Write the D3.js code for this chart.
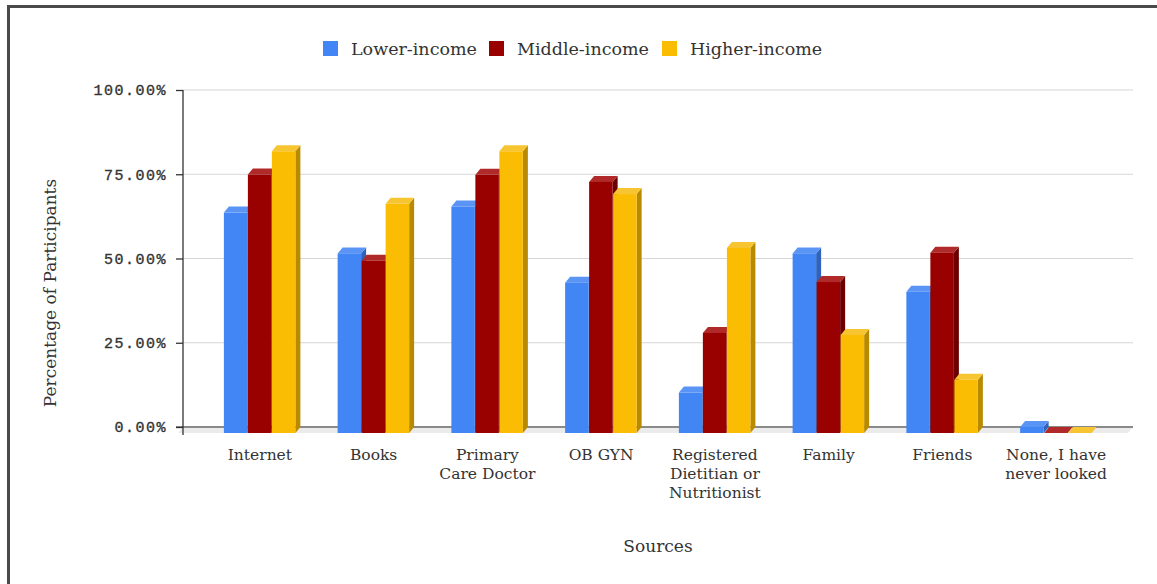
<!DOCTYPE html>
<html>
<head>
<meta charset="utf-8">
<script src="https://cdn.jsdelivr.net/npm/d3@7"></script>
<style>
  html, body { margin: 0; padding: 0; background: #fff; }
  svg { display: block; }
</style>
</head>
<body>
<svg id="chart" width="1157" height="584"></svg>
<script>
// Information sources by income group (percentage of participants)
const categories = ["Internet", "Books", "Primary Care Doctor", "OB GYN",
  "Registered Dietitian or Nutritionist", "Family", "Friends", "None, I have never looked"];
const categoryLines = [["Internet"], ["Books"], ["Primary", "Care Doctor"], ["OB GYN"],
  ["Registered", "Dietitian or", "Nutritionist"], ["Family"], ["Friends"], ["None, I have", "never looked"]];
const seriesNames = ["Lower-income", "Middle-income", "Higher-income"];
const lowerIncome  = [65.4, 53.3, 67.2, 44.6, 12.0, 53.3, 41.9, 1.8];
const middleIncome = [76.7, 51.1, 76.6, 74.5, 29.7, 44.8, 53.5, 0];
const higherIncome = [83.6, 68.0, 83.6, 70.9, 54.9, 29.1, 15.8, 0];
const yTicks = [0, 25, 50, 75, 100];

const frontColors = ["#4285f4", "#990000", "#fbbc04"];
const topColors   = ["#5a95f5", "#b02a2a", "#f7c531"];
const sideColors  = ["#2f63bd", "#6a0000", "#b88a00"];

const seriesValues = [lowerIncome, middleIncome, higherIncome];

const svg = d3.select("#chart");

// Outer frame
svg.append("rect")
  .attr("x", 8.5).attr("y", 6.5)
  .attr("width", 1200).attr("height", 700)
  .attr("fill", "#fff").attr("stroke", "#4a4a4a").attr("stroke-width", 3);

// Scales (back plane)
const y = d3.scaleLinear().domain([0, 100]).range([427, 90]);
const plotLeft = 183, plotRight = 1133;
const depthX = 5, depthY = 6;   // offset between front face and back plane

const x0 = d3.scaleBand().domain(categories).range([203, 1113]);
const groupWidth = 72;
const x1 = d3.scaleBand().domain(seriesNames).range([0, groupWidth]);

// Gridlines
svg.append("g").selectAll("line")
  .data(yTicks.filter(d => d > 0))
  .join("line")
  .attr("x1", plotLeft).attr("x2", plotRight)
  .attr("y1", d => y(d)).attr("y2", d => y(d))
  .attr("stroke", "#d6d6d6").attr("stroke-width", 1.2);

// Floor strip
svg.append("polygon")
  .attr("points", [
    [plotLeft, y(0)], [plotRight, y(0)],
    [plotRight - depthX, y(0) + depthY], [plotLeft - depthX, y(0) + depthY]
  ].map(p => p.join(",")).join(" "))
  .attr("fill", "#ebebeb");

// Baseline
svg.append("line")
  .attr("x1", 176).attr("x2", plotRight)
  .attr("y1", y(0)).attr("y2", y(0))
  .attr("stroke", "#8a8a8a").attr("stroke-width", 2);

// Y axis
const yAxis = d3.axisLeft(y)
  .tickValues(yTicks)
  .tickSize(7)
  .tickPadding(9)
  .tickFormat(d => d3.format(".2f")(d) + "%");
const gy = svg.append("g")
  .attr("transform", `translate(${plotLeft},0)`)
  .call(yAxis);
gy.select(".domain").remove();
gy.selectAll(".tick line").attr("stroke", "#333").attr("stroke-width", 1.3);
gy.selectAll(".tick text")
  .attr("fill", "#333")
  .attr("stroke", "#333").attr("stroke-width", 0.35)
  .style("font-family", "'Liberation Mono', monospace")
  .style("font-size", "15px")
  .style("letter-spacing", "1.5px");
svg.append("line")
  .attr("x1", plotLeft).attr("x2", plotLeft)
  .attr("y1", y(100)).attr("y2", y(0) + 8)
  .attr("stroke", "#333").attr("stroke-width", 1.3);

// 3D bars
const barW = x1.bandwidth() - 0.5;
const groups = svg.append("g").selectAll("g")
  .data(categories)
  .join("g")
  .attr("transform", c => `translate(${x0(c) + (x0.bandwidth() - groupWidth) / 2},0)`);

groups.each(function(c, ci) {
  const g = d3.select(this);
  seriesNames.forEach((s, si) => {
    const v = seriesValues[si][ci];
    const left = x1(s);
    const right = left + barW;
    const top = y(v) + depthY;
    const bottom = y(0) + depthY;
    // side face
    g.append("polygon")
      .attr("points", [[right, top], [right + depthX, top - depthY],
        [right + depthX, bottom - depthY], [right, bottom]].map(p => p.join(",")).join(" "))
      .attr("fill", sideColors[si]);
    // top face
    g.append("polygon")
      .attr("points", [[left, top], [left + depthX, top - depthY],
        [right + depthX, top - depthY], [right, top]].map(p => p.join(",")).join(" "))
      .attr("fill", topColors[si]);
    // front face
    if (bottom - top > 0) {
      g.append("rect")
        .attr("x", left).attr("y", top)
        .attr("width", barW).attr("height", bottom - top)
        .attr("fill", frontColors[si]);
    }
  });
});

// Category labels
const labelFont = "'DejaVu Serif', serif";
groups.append("text")
  .attr("x", groupWidth / 2)
  .attr("y", 460)
  .attr("text-anchor", "middle")
  .attr("fill", "#333")
  .style("font-family", labelFont)
  .style("font-size", "15.5px")
  .selectAll("tspan")
  .data((c, i) => categoryLines[i])
  .join("tspan")
  .attr("x", groupWidth / 2)
  .attr("dy", (d, i) => i === 0 ? 0 : 19)
  .text(d => d);

// Axis titles
svg.append("text")
  .attr("x", 658).attr("y", 552)
  .attr("text-anchor", "middle")
  .attr("fill", "#333")
  .style("font-family", labelFont)
  .style("font-size", "17px")
  .text("Sources");

svg.append("text")
  .attr("transform", "translate(56,293) rotate(-90)")
  .attr("text-anchor", "middle")
  .attr("fill", "#333")
  .style("font-family", labelFont)
  .style("font-size", "17px")
  .text("Percentage of Participants");

// Legend
const legendX = [323, 489, 662];
const legend = svg.append("g").selectAll("g")
  .data(seriesNames)
  .join("g")
  .attr("transform", (d, i) => `translate(${legendX[i]},41)`);
legend.append("rect")
  .attr("width", 15).attr("height", 15)
  .attr("fill", (d, i) => frontColors[i]);
legend.append("text")
  .attr("x", 28).attr("y", 13.5)
  .attr("fill", "#333")
  .style("font-family", labelFont)
  .style("font-size", "17.5px")
  .text(d => d);
</script>
</body>
</html>
